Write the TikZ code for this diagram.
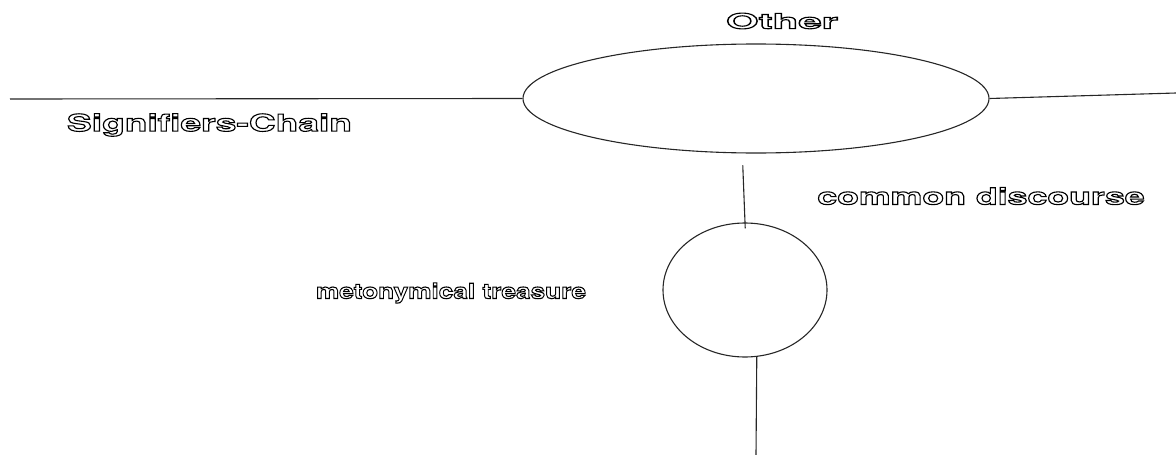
\documentclass[tikz,border=0pt]{standalone}
\usepackage{fontspec}
\usetikzlibrary{shapes.geometric}
\newfontfamily\widefont{TeX Gyre Heros}[FakeStretch=1.45]
\newcommand{\hollow}[1]{\special{pdf:literal direct 1 Tr 1.1 w}#1\special{pdf:literal direct 0 Tr 0.4 w}}
\tikzset{
  label text/.style n args={2}{inner sep=0pt,xscale=#2,font=\widefont\bfseries\fontsize{#1}{#1}\selectfont},
  line/.style={line width=1.1pt,draw=black!85}
}
\begin{document}
\begin{tikzpicture}[x=1pt,y=-1pt]
\useasboundingbox (0,0) rectangle (1176,455);
\node[ellipse,line,minimum width=466pt,minimum height=109pt,inner sep=0pt] (other) at (756,98.5) {};
\node[ellipse,line,minimum width=164pt,minimum height=134pt,inner sep=0pt] (treasure) at (745,290) {};
\coordinate (chainL) at (10,99);
\coordinate (discR) at (1176,93);
\coordinate (down) at (756,455);
\draw[line] (chainL) -- (other.west);
\draw[line] (other.east) -- (discR);
\draw[line,shorten <=12pt,shorten >=-6pt] (other.256) -- (treasure.north);
\draw[line] (treasure.280) -- (down);
\node[label text={21}{1.38}] (othertext) at (782,21) {\hollow{Other}};
\node[label text={23.5}{1.09}] (chaintext) at (209.5,125) {\hollow{Signifiers-Chain}};
\node[label text={21}{0.86}] (metontext) at (451,293) {\hollow{metonymical treasure}};
\node[label text={23}{1.07}] (disctext) at (981,196) {\hollow{common discourse}};
\end{tikzpicture}
\end{document}
